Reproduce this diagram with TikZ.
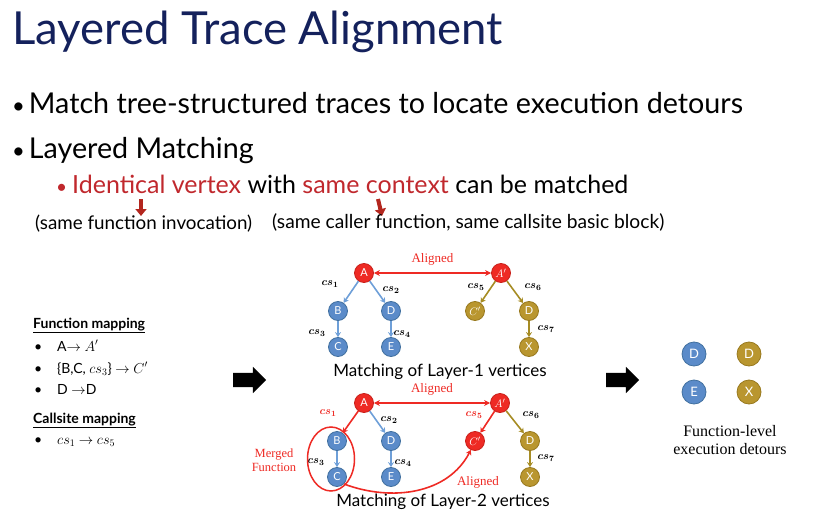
\documentclass[tikz,border=0pt]{standalone}
\usepackage{fontspec}
\setmainfont{Lato}
\newfontfamily\tnr{Liberation Serif}
\usetikzlibrary{arrows.meta,shapes.arrows,shapes.geometric}

\definecolor{titleblue}{HTML}{14215C}
\definecolor{slidered}{HTML}{C0282D}
\definecolor{arrowred}{HTML}{B3261E}
\definecolor{vblue}{HTML}{5B8BC9}
\definecolor{vblueline}{HTML}{41709F}
\definecolor{eblue}{HTML}{6E9FD8}
\definecolor{vgold}{HTML}{B9962F}
\definecolor{vgoldline}{HTML}{98791E}
\definecolor{egold}{HTML}{A68C24}
\definecolor{vred}{HTML}{EE2A24}
\definecolor{vredline}{HTML}{C9211B}

\newcommand{\fs}[1]{\fontsize{#1}{#1}\selectfont}

\begin{document}
\begin{tikzpicture}[
  x=1pt,y=-1pt,
  >=Stealth,
  vtx/.style={circle,minimum size=19pt,inner sep=0pt,line width=0.8pt,
    text=white,font=\fs{11}},
  bluev/.style={vtx,fill=vblue,draw=vblueline},
  goldv/.style={vtx,fill=vgold,draw=vgoldline},
  redv/.style={vtx,fill=vred,draw=vredline},
  bigv/.style={minimum size=24pt,font=\fs{13}},
  bedge/.style={-{Stealth[length=5pt,width=6pt]},draw=eblue,line width=1.6pt},
  gedge/.style={-{Stealth[length=5pt,width=6pt]},draw=egold,line width=1.6pt},
  redge/.style={-{Stealth[length=5pt,width=6pt]},draw=vred,line width=1.6pt},
  alignarrow/.style={{Stealth[length=6pt,width=6pt]}-{Stealth[length=6pt,width=6pt]},
    draw=vred,line width=1.4pt},
  cs/.style={font=\fs{11}\boldmath,inner sep=0pt},
  redtag/.style={font=\tnr\fs{13},text=vred,inner sep=0pt},
  caption/.style={font=\fs{17},inner sep=0pt},
  bigarrow/.style={single arrow,fill=black,draw=none,inner sep=7pt,
    minimum height=33pt,single arrow head extend=6pt},
  downarrow/.style={-{Triangle[length=7pt,width=11pt]},draw=arrowred,line width=4pt},
  txt/.style={anchor=base west,inner sep=0pt},
  item/.style={anchor=base west,inner sep=0pt,font=\fs{14}}
]
\useasboundingbox (0,0) rectangle (822,511);

% title and bullets
\node[txt,text=titleblue,font=\fs{45.5}] (title) at (12,45) {Layered Trace Alignment};
\node[txt,font=\fs{28.7}] (b1) at (12,113)
  {{\fs{22}\textbullet}\hspace{4pt}Match tree-structured traces to locate execution detours};
\node[txt,font=\fs{28.7}] (b2) at (12,158)
  {{\fs{22}\textbullet}\hspace{4pt}Layered Matching};
\node[txt,font=\fs{25}] (b3) at (56,193)
  {{\color{slidered}{\fs{19}\textbullet}\hspace{5pt}Identical vertex} with
   {\color{slidered}same context} can be matched};

\coordinate (d1s) at (141,199);
\coordinate (d1e) at (141,216);
\coordinate (d2s) at (378,199);
\coordinate (d2e) at (382,216);
\draw[downarrow] (d1s) -- (d1e);
\draw[downarrow] (d2s) -- (d2e);

\node[txt,font=\fs{18.8}] (ctx1) at (35,229) {(same function invocation)};
\node[txt,font=\fs{19.2}] (ctx2) at (272,228) {(same caller function, same callsite basic block)};

% mapping lists
\node[item,font=\fs{14}\bfseries] (fmap) at (33,328) {\underline{Function mapping}};
\node[item] (f1dot) at (34,351) {\textbullet};
\node[item] (f1) at (57,351) {A$\rightarrow$ $A'$};
\node[item] (f2dot) at (34,373) {\textbullet};
\node[item] (f2) at (57,373) {\{B,C, $cs_3$\} $\rightarrow$ $C'$};
\node[item] (f3dot) at (34,394) {\textbullet};
\node[item] (f3) at (57,394) {D $\rightarrow$D};
\node[item,font=\fs{14}\bfseries] (cmap) at (33,423) {\underline{Callsite mapping}};
\node[item] (c1dot) at (34,444) {\textbullet};
\node[item] (c1) at (57,444) {$cs_1$ $\rightarrow$ $cs_5$};

\node[bigarrow] (arr1) at (246,380) {};
\node[bigarrow] (arr2) at (619,380) {};

% layer 1
\node[redv] (a1) at (364,273) {A};
\node[bluev] (b1v) at (338,311) {B};
\node[bluev] (d1) at (391,311) {D};
\node[bluev] (c1v) at (338,347) {C};
\node[bluev] (e1) at (391,347) {E};
\node[redv] (ap1) at (501,273) {$A'$};
\node[goldv] (cp1) at (475,311) {$C'$};
\node[goldv] (dd1) at (529,311) {D};
\node[goldv] (x1) at (529,347) {X};

\draw[alignarrow] (a1) -- node[redtag,above=7pt] {Aligned} (ap1);
\draw[bedge] (a1) -- (b1v);
\draw[bedge] (a1) -- (d1);
\draw[bedge] (b1v) -- (c1v);
\draw[bedge] (d1) -- (e1);
\draw[gedge] (ap1) -- (cp1);
\draw[gedge] (ap1) -- (dd1);
\draw[gedge] (dd1) -- (x1);

\node[cs] (cs1a) at (330,284) {$cs_1$};
\node[cs] (cs2a) at (391,290) {$cs_2$};
\node[cs] (cs3a) at (317,333) {$cs_3$};
\node[cs] (cs4a) at (402,334) {$cs_4$};
\node[cs] (cs5a) at (476,287) {$cs_5$};
\node[cs] (cs6a) at (533,287) {$cs_6$};
\node[cs] (cs7a) at (546,329) {$cs_7$};
\node[caption] (cap1) at (440,372) {Matching of Layer-1 vertices};

% layer 2
\node[redv] (a2) at (364,403) {A};
\node[bluev] (b2v) at (337,441) {B};
\node[bluev] (d2) at (391,441) {D};
\node[bluev] (c2v) at (337,477) {C};
\node[bluev] (e2) at (391,477) {E};
\node[redv] (ap2) at (500,403) {$A'$};
\node[redv] (cp2) at (475,441) {$C'$};
\node[goldv] (dd2) at (530,441) {D};
\node[goldv] (x2) at (530,477) {X};

\draw[alignarrow] (a2) -- node[redtag,above=7pt] {Aligned} (ap2);
\draw[redge] (a2) -- (b2v);
\draw[bedge] (a2) -- (d2);
\draw[bedge] (b2v) -- (c2v);
\draw[bedge] (d2) -- (e2);
\draw[redge] (ap2) -- (cp2);
\draw[gedge] (ap2) -- (dd2);
\draw[gedge] (dd2) -- (x2);

\node[cs,text=vred] (cs1b) at (328,413) {$cs_1$};
\node[cs] (cs2b) at (389,420) {$cs_2$};
\node[cs] (cs3b) at (316,462) {$cs_3$};
\node[cs] (cs4b) at (403,463) {$cs_4$};
\node[cs,text=vred] (cs5b) at (474,415) {$cs_5$};
\node[cs] (cs6b) at (531,415) {$cs_6$};
\node[cs] (cs7b) at (546,458) {$cs_7$};

\node[draw=vred,line width=1.5pt,ellipse,minimum width=47pt,minimum height=64pt]
  (merge) at (331,459) {};
\node[redtag,align=center,font=\tnr\fs{12.5}] (mergetxt) at (274,460) {Merged\\[1pt]Function};
\draw[redge] (c2v.south east) .. controls (392,502) and (448,494) .. (cp2.-115);
\node[redtag] (al3) at (478,482) {Aligned};
\node[caption] (cap2) at (443,502) {Matching of Layer-2 vertices};

% detours
\node[bluev,bigv] (rd1) at (694,354) {D};
\node[goldv,bigv] (rd2) at (749,354) {D};
\node[bluev,bigv] (re) at (694,392) {E};
\node[goldv,bigv] (rx) at (749,392) {X};
\node[font=\tnr\fs{16},align=center,inner sep=0pt] (det) at (730,440)
  {Function-level\\[2pt]execution detours};
\end{tikzpicture}
\end{document}
